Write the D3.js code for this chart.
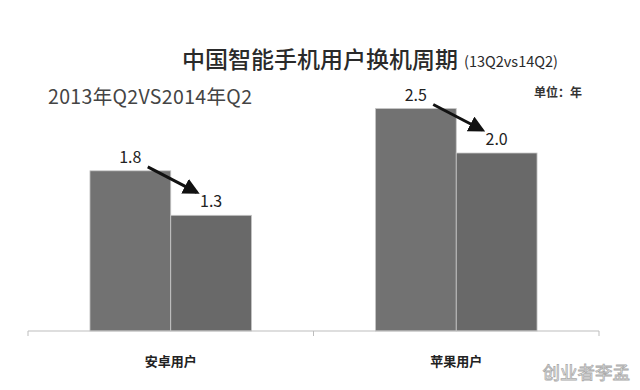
<!DOCTYPE html>
<meta charset="utf-8">
<style>
  body { margin: 0; background: #fff; }
  text { font-family: 'Noto Sans CJK SC', 'Noto Sans', sans-serif; }
  .bar { stroke: #c8c8c8; stroke-width: 0.8px; }
  .axis path, .axis line { stroke: #bdbdbd; }
</style>
<body>
<script src="https://d3js.org/d3.v7.min.js"></script>
<script>
// data
var categories = ["安卓用户", "苹果用户"];
var periods = ["2013Q2", "2014Q2"];
var android = [1.8, 1.3];
var apple = [2.5, 2.0];
var barColors = ["#727272", "#696969"];

var width = 640, height = 390;

var svg = d3.select("body").append("svg")
  .attr("width", width)
  .attr("height", height);

// scales
var x0 = d3.scaleBand().domain(categories).range([28, 599]);
var pad = x0.bandwidth() * 0.217;
var x1 = d3.scaleBand().domain(periods).range([pad, x0.bandwidth() - pad]);
var y = d3.scaleLinear().domain([0, 3]).range([331, 64]);

var rows = categories.map(function (c, i) {
  var vals = i == 0 ? android : apple;
  return { cat: c, vals: periods.map(function (p, j) { return { p: p, v: vals[j] }; }) };
});

// bars
var g = svg.selectAll(".grp").data(rows).join("g")
  .attr("class", "grp")
  .attr("transform", function (d) { return "translate(" + x0(d.cat) + ",0)"; });

g.selectAll("rect").data(function (d) { return d.vals; }).join("rect")
  .attr("class", "bar")
  .attr("x", function (d) { return x1(d.p); })
  .attr("y", function (d) { return y(d.v); })
  .attr("width", x1.bandwidth())
  .attr("height", function (d) { return y(0) - y(d.v); })
  .attr("fill", function (d, i) { return barColors[i]; });

// value labels
g.selectAll(".val").data(function (d) { return d.vals; }).join("text")
  .attr("class", "val")
  .attr("x", function (d) { return x1(d.p) + x1.bandwidth() / 2; })
  .attr("y", function (d) { return y(d.v) - 8; })
  .attr("text-anchor", "middle")
  .attr("font-size", 16)
  .attr("fill", "#222")
  .text(function (d) { return d.v.toFixed(1); });

// arrows
svg.append("defs").append("marker")
  .attr("id", "arr")
  .attr("viewBox", "0 0 10 10")
  .attr("refX", 8).attr("refY", 5)
  .attr("markerWidth", 5.5).attr("markerHeight", 5.5)
  .attr("orient", "auto")
  .append("path").attr("d", "M0,0L10,5L0,10z").attr("fill", "#111");

g.append("line")
  .attr("x1", function (d) { return x1(periods[0]) + x1.bandwidth() - 23; })
  .attr("y1", function (d) { return y(d.vals[0].v) - 4; })
  .attr("x2", function (d) { return x1(periods[1]) + 26; })
  .attr("y2", function (d) { return y(d.vals[1].v) - 23; })
  .attr("stroke", "#111")
  .attr("stroke-width", 3)
  .attr("marker-end", "url(#arr)");

// x axis
var axis = svg.append("g")
  .attr("class", "axis")
  .attr("transform", "translate(0," + y(0) + ")");
axis.append("line").attr("x1", x0.range()[0]).attr("x2", x0.range()[1]);
axis.selectAll(".tk").data([x0.range()[0], x0(categories[1]), x0.range()[1]]).join("line")
  .attr("class", "tk")
  .attr("x1", function (d) { return d; }).attr("x2", function (d) { return d; })
  .attr("y1", 0).attr("y2", 5);

svg.selectAll(".cat").data(categories).join("text")
  .attr("class", "cat")
  .attr("x", function (d) { return x0(d) + x0.bandwidth() / 2; })
  .attr("y", 366)
  .attr("text-anchor", "middle")
  .attr("font-size", 13)
  .attr("font-weight", "bold")
  .attr("fill", "#222")
  .text(function (d) { return d; });

// titles
var t = svg.append("text").attr("x", 182).attr("y", 68).attr("fill", "#2a2a2a");
t.append("tspan").attr("font-size", 23).attr("font-weight", 500).text("中国智能手机用户换机周期");
t.append("tspan").attr("font-size", 14.5).attr("dx", 6).attr("dy", -1).text("(13Q2vs14Q2)");

svg.append("text")
  .attr("x", 582).attr("y", 97)
  .attr("text-anchor", "end")
  .attr("font-size", 12)
  .attr("font-weight", "bold")
  .attr("fill", "#333")
  .text("单位：年");

svg.append("text")
  .attr("x", 48).attr("y", 104)
  .attr("font-size", 19.5)
  .attr("fill", "#444")
  .attr("textLength", 204)
  .text("2013年Q2VS2014年Q2");

// watermark
svg.append("text")
  .attr("x", 630).attr("y", 379)
  .attr("text-anchor", "end")
  .attr("font-size", 17.5)
  .attr("fill", "#fff")
  .attr("stroke", "#aaa")
  .attr("stroke-width", 0.8)
  .text("创业者李孟");
</script>
</body>
